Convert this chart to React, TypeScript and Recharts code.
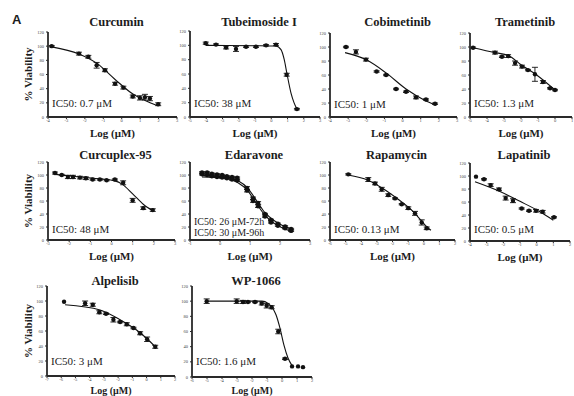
import React from "react";
import { ComposedChart, Scatter, Line, XAxis, YAxis, ErrorBar } from "recharts";

type Pt = [number, number, number];
type Fp = [number, number];

// [log µM, % viability, sd]
const curcuminPts: Pt[] = [[-3.8, 100, 1], [-2.32, 89.5, 2], [-1.81, 85, 2], [-1.36, 73, 4], [-0.91, 66, 2], [-0.36, 47, 2], [0.09, 41.5, 2], [0.6, 29, 2], [0.99, 27, 3], [1.26, 28, 4], [1.53, 26, 3], [1.98, 18, 2]];
const curcuminFit: Fp[] = [[-3.8, 99], [-2.32, 89], [-1.36, 76], [-0.36, 53], [0.63, 32], [1.3, 23], [1.95, 16]];

const tubeimosidePts: Pt[] = [[-4.03, 103, 1.5], [-3.4, 101, 1], [-2.78, 97, 2], [-2.17, 95, 3.5], [-1.55, 98, 1], [-0.94, 98, 1], [-0.32, 100, 1], [0.29, 101, 1.5], [0.95, 59, 2], [1.58, 11, 1]];
const tubeimosideFit: Fp[] = [[-4.03, 100], [-1, 99.5], [0.29, 99], [0.6, 94], [0.8, 80], [0.97, 60], [1.22, 33], [1.4, 20], [1.58, 11]];

const cobimetinibPts: Pt[] = [[-3.12, 100, 1], [-2.57, 93, 3], [-2.02, 82, 2], [-1.43, 65, 1], [-0.91, 60, 1], [-0.36, 40, 1], [0.19, 36, 1], [0.74, 28, 2], [1.29, 25, 1], [1.79, 19, 1]];
const cobimetinibFit: Fp[] = [[-3.17, 92], [-2.02, 82], [-0.91, 63], [0.19, 40], [1.29, 23], [1.84, 17]];

const trametinibPts: Pt[] = [[-4.82, 99, 1], [-3.53, 92, 2], [-3.12, 86, 1], [-2.76, 87, 2], [-2.35, 77, 3], [-1.94, 72, 2], [-1.59, 67, 1], [-1.18, 61, 10], [-0.71, 50, 2], [-0.29, 41, 1], [0, 38.5, 1]];
const trametinibFit: Fp[] = [[-4.8, 99], [-3.53, 92], [-2.75, 88], [-1.96, 74], [-1.08, 60], [0, 38.5]];

const curcuplexPts: Pt[] = [[-2.67, 103, 1.5], [-2.35, 100, 1], [-2.06, 97, 2.5], [-1.82, 97, 2.5], [-1.49, 96, 2], [-1.21, 95, 2], [-0.89, 93, 1], [-0.55, 93, 1], [-0.23, 92, 1], [0.16, 93, 1], [0.55, 88, 3], [1.0, 61, 3], [1.5, 49, 2], [1.95, 46, 2]];
const curcuplexFit: Fp[] = [[-2.67, 101], [-1.5, 97], [-0.5, 94], [0.16, 91], [0.5, 86], [1.0, 71], [1.5, 55], [1.95, 45]];

const edaravone72Pts: Pt[] = [[-0.6, 104, 1], [-0.43, 104, 1], [-0.27, 102, 1], [-0.1, 101, 1], [0.07, 100, 1], [0.23, 98, 1], [0.4, 97, 1], [0.57, 96, 1], [0.9, 80, 2], [1.1, 64, 2], [1.27, 57, 2], [1.5, 40, 1], [1.7, 31, 1], [1.93, 25, 1], [2.17, 21, 1], [2.37, 17, 1]];
const edaravone96Pts: Pt[] = [[-0.6, 101, 1], [-0.43, 100, 1], [-0.27, 98, 1], [-0.1, 97, 1], [0.07, 96, 1], [0.23, 95, 1], [0.4, 93, 1], [0.57, 92, 1], [0.9, 76, 2], [1.1, 60, 2], [1.27, 52, 2], [1.5, 36, 1], [1.7, 27, 1], [1.93, 22, 1], [2.17, 18, 1], [2.37, 14, 1]];
const edaravone72Fit: Fp[] = [[-0.6, 99], [0.2, 97], [0.6, 91], [0.9, 81], [1.2, 62], [1.5, 42], [1.8, 30], [2.1, 22], [2.4, 17]];
const edaravone96Fit: Fp[] = [[-0.6, 97], [0.2, 95], [0.6, 88], [0.9, 77], [1.2, 57], [1.5, 38], [1.8, 26], [2.1, 18], [2.4, 13]];

const rapamycinPts: Pt[] = [[-4.83, 101, 1], [-3.55, 93, 3], [-3.12, 87, 2], [-2.69, 78, 3], [-2.27, 69, 2], [-1.84, 64, 1], [-1.41, 55, 1], [-0.99, 49, 2], [-0.56, 41, 3], [-0.13, 27, 4], [0.19, 18, 2]];
const rapamycinFit: Fp[] = [[-4.85, 100], [-3.57, 92], [-2.8, 82], [-1.71, 64], [-0.69, 44], [0.21, 20], [0.46, 15]];

const lapatinibPts: Pt[] = [[-3.64, 99, 0], [-3.16, 95, 1], [-2.76, 86, 2], [-2.26, 79.5, 2], [-1.86, 66, 3], [-1.42, 62, 3], [-0.9, 50, 1], [-0.46, 46.5, 1], [-0.04, 46.5, 2], [0.36, 45, 2], [1.04, 36.5, 1]];
const lapatinibFit: Fp[] = [[-3.7, 91], [-2.2, 76], [-1.0, 61], [0.2, 45], [1.0, 32]];

const alpelisibPts: Pt[] = [[-5.8, 99, 0], [-4.32, 97, 3], [-3.78, 95, 2], [-3.32, 85, 2], [-2.85, 83, 1], [-2.33, 75, 3], [-1.86, 72, 1], [-1.39, 69, 2], [-0.92, 64, 1], [-0.45, 57, 2], [0.04, 49, 3], [0.61, 39, 2]];
const alpelisibFit: Fp[] = [[-5.73, 95], [-3.27, 88], [-1.86, 75], [-0.68, 61], [0.13, 48], [0.61, 39]];

const wp1066Pts: Pt[] = [[-5.02, 100, 3], [-3.02, 100, 3], [-2.6, 99, 2], [-2.27, 99, 1], [-1.8, 99, 1], [-1.35, 97, 2], [-1.02, 94, 3], [-0.69, 92, 2], [-0.25, 60, 3], [0.2, 24, 1], [0.67, 14, 0], [1.07, 14, 0], [1.4, 13, 0]];
const wp1066Fit: Fp[] = [[-5.02, 100], [-1.33, 100], [-0.93, 97], [-0.67, 92], [-0.4, 82], [-0.13, 64], [0.13, 42], [0.4, 25], [0.67, 15]];

const yTicks = [0, 20, 40, 60, 80, 100, 120];

const SERIF = '"Liberation Serif", "DejaVu Serif", serif';
const INK = "#1c1c1c";

interface PanelCfg {
  title: string;
  ic50: string[];
  L: number; R: number; T: number; B: number;
  domain: [number, number];
  pts: Pt[][];
  fits: Fp[][];
  titleY: number;
  icY: number;
  icSize: number;
  yLabel?: boolean;
}

const panels: PanelCfg[] = [
  { title: "Curcumin", ic50: ["IC50: 0.7 μM"], L: 48, R: 177, T: 32, B: 117, domain: [-4, 3], pts: [curcuminPts], fits: [curcuminFit], titleY: 22, icY: 107, icSize: 11, yLabel: true },
  { title: "Tubeimoside I", ic50: ["IC50: 38 μM"], L: 190, R: 320, T: 31, B: 117, domain: [-5, 3], pts: [tubeimosidePts], fits: [tubeimosideFit], titleY: 22, icY: 107, icSize: 11 },
  { title: "Cobimetinib", ic50: ["IC50: 1 μM"], L: 330, R: 457, T: 33, B: 117, domain: [-4, 3], pts: [cobimetinibPts], fits: [cobimetinibFit], titleY: 22, icY: 108, icSize: 11 },
  { title: "Trametinib", ic50: ["IC50: 1.3 μM"], L: 470, R: 572, T: 33, B: 117, domain: [-5, 1], pts: [trametinibPts], fits: [trametinibFit], titleY: 22, icY: 107, icSize: 11 },
  { title: "Curcuplex-95", ic50: ["IC50: 48 μM"], L: 48, R: 175, T: 162, B: 240, domain: [-3, 3], pts: [curcuplexPts], fits: [curcuplexFit], titleY: 155, icY: 233, icSize: 11, yLabel: true },
  { title: "Edaravone", ic50: ["IC50: 26 μM-72h", "IC50: 30 μM-96h"], L: 190, R: 310, T: 162, B: 240, domain: [-1, 3], pts: [edaravone72Pts, edaravone96Pts], fits: [edaravone72Fit, edaravone96Fit], titleY: 155, icY: 225, icSize: 10 },
  { title: "Rapamycin", ic50: ["IC50: 0.13 μM"], L: 330, R: 455, T: 162, B: 240, domain: [-6, 2], pts: [rapamycinPts], fits: [rapamycinFit], titleY: 155, icY: 233, icSize: 11 },
  { title: "Lapatinib", ic50: ["IC50: 0.5 μM"], L: 470, R: 570, T: 163, B: 241, domain: [-4, 2], pts: [lapatinibPts], fits: [lapatinibFit], titleY: 155, icY: 233, icSize: 11 },
  { title: "Alpelisib", ic50: ["IC50: 3 μM"], L: 47, R: 175, T: 286, B: 376, domain: [-7, 2], pts: [alpelisibPts], fits: [alpelisibFit], titleY: 281, icY: 365, icSize: 11, yLabel: true },
  { title: "WP-1066", ic50: ["IC50: 1.6 μM"], L: 192, R: 312, T: 286, B: 377, domain: [-6, 2], pts: [wp1066Pts], fits: [wp1066Fit], titleY: 281, icY: 365, icSize: 11 },
];

const toPts = (a: Pt[]) => a.map(([x, y, e]) => ({ x, y, e }));
const toFit = (a: Fp[]) => a.map(([x, y]) => ({ x, y }));

const renderDot = (props: any) => {
  const { cx, cy } = props;
  if (cx == null || cy == null) return <g />;
  return <circle cx={cx} cy={cy} r={2.2} fill="#111" />;
};

const YW = 24;
const TOPM = 8;
const XH = 12;
const RM = 6;

function Panel({ p }: { p: PanelCfg }) {
  const w = YW + (p.R - p.L) + RM;
  const h = TOPM + (p.B - p.T) + XH;
  const ticks: number[] = [];
  for (let v = p.domain[0]; v <= p.domain[1]; v++) ticks.push(v);
  const axisLine = { stroke: "#2a2a2a", strokeWidth: 1.8 };
  const tickLine = { stroke: "#2a2a2a", strokeWidth: 1 };
  return (
    <div style={{ position: "absolute", left: p.L - YW, top: p.T - TOPM }}>
      <ComposedChart width={w} height={h} margin={{ top: TOPM, right: RM, left: 0, bottom: 0 }}>
        <XAxis
          type="number"
          dataKey="x"
          domain={p.domain}
          ticks={ticks}
          interval={0}
          height={XH}
          allowDataOverflow
          axisLine={axisLine}
          tickLine={tickLine}
          tickSize={2}
          tickMargin={0}
          tick={{ fontSize: 4.5, fill: "#444" }}
        />
        <YAxis
          type="number"
          dataKey="y"
          domain={[0, 120]}
          ticks={yTicks}
          interval={0}
          width={YW}
          allowDataOverflow
          axisLine={axisLine}
          tickLine={tickLine}
          tickSize={2}
          tick={{ fontSize: 4.5, fill: "#444" }}
        />
        {p.fits.map((f, i) => (
          <Line key={"fit" + i} data={toFit(f)} dataKey="y" type="monotone" dot={false} stroke="#111" strokeWidth={1.1} isAnimationActive={false} />
        ))}
        {p.pts.map((s, i) => (
          <Scatter key={"pts" + i} data={toPts(s)} dataKey="y" shape={renderDot} isAnimationActive={false}>
            <ErrorBar dataKey="e" direction="y" width={3} stroke="#111" strokeWidth={0.9} />
          </Scatter>
        ))}
      </ComposedChart>
    </div>
  );
}

export default function App() {
  return (
    <div style={{ position: "absolute", left: 0, top: 0, width: 574, height: 396, background: "#fff", overflow: "hidden" }}>
      {panels.map((p) => (
        <Panel key={p.title} p={p} />
      ))}
      <svg width={574} height={396} style={{ position: "absolute", left: 0, top: 0, pointerEvents: "none" }}>
        <text x={12} y={24} fontFamily="Arial, 'Liberation Sans', sans-serif" fontWeight="bold" fontSize={13} fill={INK}>A</text>
        {panels.map((p) => {
          const bottomRow = p.B > 300;
          return (
            <g key={p.title} fontFamily={SERIF} fill={INK}>
              <text x={(p.L + p.R) / 2 + 4} y={p.titleY} textAnchor="middle" dominantBaseline="central" fontWeight="bold" fontSize={12.5}>
                {p.title}
              </text>
              {p.ic50.map((t, i) => (
                <text key={t} x={p.L + 4} y={p.icY + i * 11} fontSize={p.icSize}>
                  {t}
                </text>
              ))}
              <text
                x={(p.L + p.R) / 2}
                y={bottomRow ? 390.5 : p.B + 16}
                textAnchor="middle"
                dominantBaseline="central"
                fontWeight="bold"
                fontSize={bottomRow ? 10 : 11}
              >
                Log (μM)
              </text>
              {p.yLabel && (
                <text
                  x={28}
                  y={(p.T + p.B) / 2}
                  transform={`rotate(-90 28 ${(p.T + p.B) / 2})`}
                  textAnchor="middle"
                  dominantBaseline="central"
                  fontWeight="bold"
                  fontSize={11}
                >
                  % Viability
                </text>
              )}
            </g>
          );
        })}
      </svg>
    </div>
  );
}
